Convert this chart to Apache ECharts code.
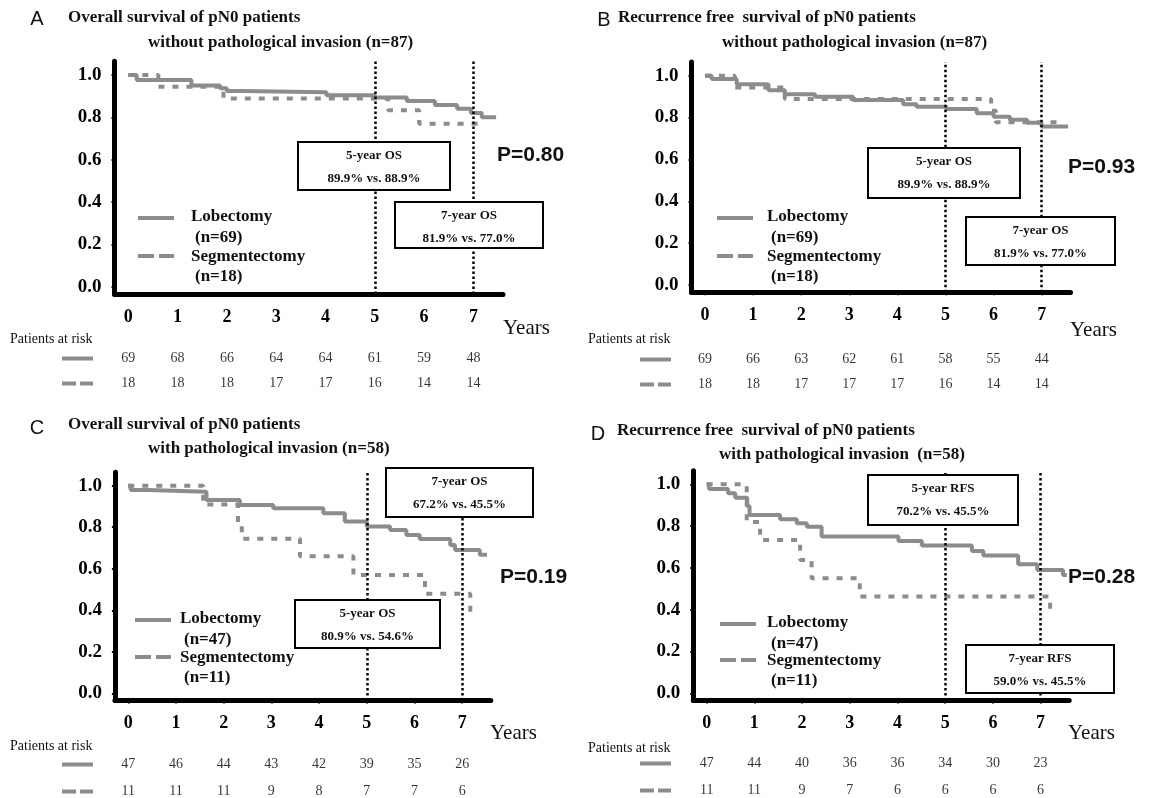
<!DOCTYPE html>
<html>
<head>
<meta charset="utf-8">
<script src="https://cdn.jsdelivr.net/npm/echarts@6/dist/echarts.min.js"></script>
<style>
  html, body { margin: 0; padding: 0; background: #fff; }
  #main { width: 1152px; height: 798px; }
</style>
</head>
<body>
<div id="main"></div>
<script>
// ticks
var yearTicks = [0, 1, 2, 3, 4, 5, 6, 7];
var survTicks = [0, 0.2, 0.4, 0.6, 0.8, 1.0];
var landmarkYears = [5, 7];

// Kaplan-Meier steps [year, survival]
var lobA = [[0,1],[0.17,0.976],[1.28,0.95],[1.86,0.937],[2.0,0.924],[2.3,0.918],[4.02,0.904],[5.0,0.893],[5.65,0.877],[6.22,0.858],[6.67,0.84],[6.95,0.82],[7.17,0.80],[7.46,0.80]];
var segA = [[0,1],[0.61,0.944],[1.93,0.889],[5.27,0.833],[5.9,0.77],[7.23,0.77]];

var lobB = [[0,1],[0.14,0.984],[0.66,0.959],[1.32,0.93],[1.66,0.911],[2.29,0.9],[3.08,0.884],[4.12,0.863],[4.4,0.852],[5.02,0.841],[5.65,0.82],[6.0,0.804],[6.34,0.79],[6.7,0.775],[7.0,0.757],[7.55,0.757]];
var segB = [[0,1],[0.62,0.944],[1.66,0.889],[5.95,0.833],[6.05,0.778],[7.45,0.778]];

var lobC = [[0,1],[0.05,0.979],[0.42,0.971],[1.64,0.931],[2.34,0.907],[3.04,0.891],[4.09,0.867],[4.54,0.827],[5.0,0.803],[5.49,0.787],[5.83,0.762],[6.11,0.743],[6.75,0.714],[6.85,0.69],[7.37,0.667],[7.52,0.667]];
var segC = [[0,1],[1.57,0.909],[2.3,0.818],[2.38,0.745],[3.6,0.66],[4.72,0.57],[6.22,0.48],[7.17,0.39],[7.3,0.39]];

var lobD = [[0,1],[0.05,0.978],[0.45,0.957],[0.6,0.936],[0.85,0.895],[0.9,0.853],[1.54,0.833],[1.89,0.813],[2.1,0.797],[2.41,0.75],[4.02,0.729],[4.51,0.707],[5.56,0.681],[5.8,0.659],[6.53,0.617],[6.93,0.59],[7.47,0.566],[7.55,0.566]];
var segD = [[0,1],[0.84,0.82],[1.12,0.734],[1.96,0.638],[2.2,0.55],[3.21,0.463],[7.2,0.39],[7.3,0.39]];

// patients at risk at years 0..7
var riskALob = [69, 68, 66, 64, 64, 61, 59, 48];
var riskASeg = [18, 18, 18, 17, 17, 16, 14, 14];
var riskBLob = [69, 66, 63, 62, 61, 58, 55, 44];
var riskBSeg = [18, 18, 17, 17, 17, 16, 14, 14];
var riskCLob = [47, 46, 44, 43, 42, 39, 35, 26];
var riskCSeg = [11, 11, 11, 9, 8, 7, 7, 6];
var riskDLob = [47, 44, 40, 36, 36, 34, 30, 23];
var riskDSeg = [11, 11, 9, 7, 6, 6, 6, 6];

var SERIF = '"Liberation Serif", "Times New Roman", serif';
var SANS = '"Liberation Sans", Arial, sans-serif';
var GREY = '#8c8c8c';
var SEG_DASH = [6, 8];
var X_MIN = -0.28, X_MAX = 7.6, Y_MIN = -0.035, Y_MAX = 1.065;

var panels = [
  {
    letter: 'A', letterPos: [37, 19],
    title1: 'Overall survival of pN0 patients', t1: [68, 18],
    title2: 'without pathological invasion (n=87)', t2: [148, 43],
    lob: lobA, seg: segA, riskLob: riskALob, riskSeg: riskASeg, nLob: '(n=69)', nSeg: '(n=18)',
    grid: {left: 114.5, top: 61.2, width: 388.5, height: 232.9}, riskTop: 346, riskH: 50,
    legend: {sx: 138, tx: 191, yLob: 218, ySeg: 256},
    boxes: [
      {x: 298, y: 142, w: 152, h: 48, l1: '5-year OS', l2: '89.9% vs. 88.9%'},
      {x: 395, y: 202, w: 148, h: 46, l1: '7-year OS', l2: '81.9% vs. 77.0%'}
    ],
    p: 'P=0.80', pPos: [497, 155], years: [503, 328], par: [10, 339], sampleX: 62
  },
  {
    letter: 'B', letterPos: [604, 20],
    title1: 'Recurrence free  survival of pN0 patients', t1: [618, 18],
    title2: 'without pathological invasion (n=87)', t2: [722, 43],
    lob: lobB, seg: segB, riskLob: riskBLob, riskSeg: riskBSeg, nLob: '(n=69)', nSeg: '(n=18)',
    grid: {left: 691.5, top: 62.1, width: 379, height: 230.2}, riskTop: 347, riskH: 50,
    legend: {sx: 717, tx: 767, yLob: 218, ySeg: 256},
    boxes: [
      {x: 868, y: 148, w: 152, h: 50, l1: '5-year OS', l2: '89.9% vs. 88.9%'},
      {x: 966, y: 217, w: 149, h: 48, l1: '7-year OS', l2: '81.9% vs. 77.0%'}
    ],
    p: 'P=0.93', pPos: [1068, 167], years: [1070, 330], par: [588, 339], sampleX: 640
  },
  {
    letter: 'C', letterPos: [37, 428],
    title1: 'Overall survival of pN0 patients', t1: [68, 425],
    title2: 'with pathological invasion (n=58)', t2: [148, 449],
    lob: lobC, seg: segC, riskLob: riskCLob, riskSeg: riskCSeg, nLob: '(n=47)', nSeg: '(n=11)',
    grid: {left: 114.9, top: 472.2, width: 375.9, height: 228.4}, riskTop: 751, riskH: 54,
    legend: {sx: 135, tx: 180, yLob: 620, ySeg: 657},
    boxes: [
      {x: 386, y: 468, w: 147, h: 49, l1: '7-year OS', l2: '67.2% vs. 45.5%'},
      {x: 295, y: 600, w: 145, h: 48, l1: '5-year OS', l2: '80.9% vs. 54.6%'}
    ],
    p: 'P=0.19', pPos: [500, 577], years: [490, 733], par: [10, 746], sampleX: 62
  },
  {
    letter: 'D', letterPos: [598, 434],
    title1: 'Recurrence free  survival of pN0 patients', t1: [617, 431],
    title2: 'with pathological invasion  (n=58)', t2: [719, 455],
    lob: lobD, seg: segD, riskLob: riskDLob, riskSeg: riskDSeg, nLob: '(n=47)', nSeg: '(n=11)',
    grid: {left: 693.3, top: 470.7, width: 375.9, height: 229.9}, riskTop: 750, riskH: 54,
    legend: {sx: 720, tx: 767, yLob: 624, ySeg: 660},
    boxes: [
      {x: 868, y: 475, w: 150, h: 50, l1: '5-year RFS', l2: '70.2% vs. 45.5%'},
      {x: 966, y: 645, w: 148, h: 48, l1: '7-year RFS', l2: '59.0% vs. 45.5%'}
    ],
    p: 'P=0.28', pPos: [1068, 577], years: [1068, 733], par: [588, 748], sampleX: 640
  }
];

function txt(x, y, s, font, align) {
  return {
    type: 'text', x: x, y: y, z: 20,
    style: {text: s, font: font, fill: '#111', align: align || 'left', verticalAlign: 'middle'}
  };
}
function seg(x1, y1, x2, y2, dash) {
  return {
    type: 'line', z: 20,
    shape: {x1: x1, y1: y1, x2: x2, y2: y2},
    style: {stroke: GREY, lineWidth: 4, lineDash: dash || null}
  };
}

var grids = [], xAxes = [], yAxes = [], series = [], graphics = [];

panels.forEach(function (p) {
  var g = grids.length;
  grids.push({left: p.grid.left, top: p.grid.top, width: p.grid.width, height: p.grid.height, outerBoundsMode: 'none'});
  xAxes.push({
    type: 'value', gridIndex: g, min: X_MIN, max: X_MAX,
    axisLine: {onZero: false, lineStyle: {color: '#000', width: 5}},
    axisTick: {show: true, customValues: yearTicks, length: 3, lineStyle: {color: '#000', width: 2}},
    axisLabel: {customValues: yearTicks, margin: 14, color: '#000', fontFamily: SERIF, fontWeight: 'bold', fontSize: 18},
    splitLine: {show: false}
  });
  yAxes.push({
    type: 'value', gridIndex: g, min: Y_MIN, max: Y_MAX,
    axisLine: {show: true, onZero: false, lineStyle: {color: '#000', width: 5}},
    axisTick: {show: true, customValues: survTicks, length: 3, lineStyle: {color: '#000', width: 2}},
    axisLabel: {customValues: survTicks, margin: 13, color: '#000', fontFamily: SERIF, fontWeight: 'bold', fontSize: 19,
      formatter: function (v) { return v.toFixed(1); }},
    splitLine: {show: false}
  });
  series.push({
    type: 'line', xAxisIndex: g, yAxisIndex: g, data: p.lob, step: 'end', showSymbol: false,
    lineStyle: {color: GREY, width: 4}, silent: true, z: 3,
    markLine: {
      silent: true, symbol: ['none', 'none'], label: {show: false},
      lineStyle: {type: 'dotted', color: '#000', width: 2.5},
      data: landmarkYears.map(function (v) { return {xAxis: v}; })
    }
  });
  series.push({
    type: 'line', xAxisIndex: g, yAxisIndex: g, data: p.seg, step: 'end', showSymbol: false,
    lineStyle: {color: GREY, width: 4, type: SEG_DASH}, silent: true, z: 4
  });

  // patients-at-risk table
  var r = grids.length;
  grids.push({left: p.grid.left, top: p.riskTop, width: p.grid.width, height: p.riskH, outerBoundsMode: 'none'});
  xAxes.push({type: 'value', gridIndex: r, min: X_MIN, max: X_MAX, show: false});
  yAxes.push({type: 'category', gridIndex: r, data: ['lob', 'seg'], inverse: true, show: false});
  series.push({
    type: 'scatter', xAxisIndex: r, yAxisIndex: r, symbolSize: 1, silent: true,
    itemStyle: {color: 'rgba(0,0,0,0)'},
    label: {show: true, position: 'inside', color: '#000', fontFamily: SERIF, fontSize: 14,
      formatter: function (d) { return d.value[2]; }},
    data: yearTicks.map(function (t, k) { return [t, 'lob', p.riskLob[k]]; })
      .concat(yearTicks.map(function (t, k) { return [t, 'seg', p.riskSeg[k]]; }))
  });

  // annotations
  graphics.push(txt(p.letterPos[0], p.letterPos[1], p.letter, '20px ' + SANS, 'center'));
  graphics.push(txt(p.t1[0], p.t1[1], p.title1, 'bold 17px ' + SERIF));
  graphics.push(txt(p.t2[0], p.t2[1], p.title2, 'bold 17px ' + SERIF));

  var L = p.legend;
  graphics.push(seg(L.sx, L.yLob, L.sx + 36, L.yLob));
  graphics.push(txt(L.tx, L.yLob - 1, 'Lobectomy', 'bold 17px ' + SERIF));
  graphics.push(txt(L.tx + 4, L.yLob + 20, p.nLob, 'bold 17px ' + SERIF));
  graphics.push(seg(L.sx, L.ySeg, L.sx + 36, L.ySeg, [16, 5]));
  graphics.push(txt(L.tx, L.ySeg + 1, 'Segmentectomy', 'bold 17px ' + SERIF));
  graphics.push(txt(L.tx + 4, L.ySeg + 21, p.nSeg, 'bold 17px ' + SERIF));

  p.boxes.forEach(function (b) {
    graphics.push({type: 'rect', z: 15, shape: {x: b.x, y: b.y, width: b.w, height: b.h},
      style: {fill: '#fff', stroke: '#000', lineWidth: 2}});
    graphics.push(txt(b.x + b.w / 2, b.y + 14, b.l1, 'bold 13px ' + SERIF, 'center'));
    graphics.push(txt(b.x + b.w / 2, b.y + 37, b.l2, 'bold 13px ' + SERIF, 'center'));
  });

  graphics.push(txt(p.pPos[0], p.pPos[1], p.p, 'bold 21px ' + SANS));
  graphics.push(txt(p.years[0], p.years[1], 'Years', '21px ' + SERIF));
  graphics.push(txt(p.par[0], p.par[1], 'Patients at risk', '14px ' + SERIF));

  var rowLob = p.riskTop + p.riskH / 4, rowSeg = p.riskTop + 3 * p.riskH / 4;
  graphics.push(seg(p.sampleX, rowLob, p.sampleX + 31, rowLob));
  graphics.push(seg(p.sampleX, rowSeg, p.sampleX + 31, rowSeg, [14, 4]));
});

var chart = echarts.init(document.getElementById('main'));
chart.setOption({
  backgroundColor: '#fff',
  animation: false,
  grid: grids,
  xAxis: xAxes,
  yAxis: yAxes,
  series: series,
  graphic: {elements: graphics}
});
</script>
</body>
</html>
